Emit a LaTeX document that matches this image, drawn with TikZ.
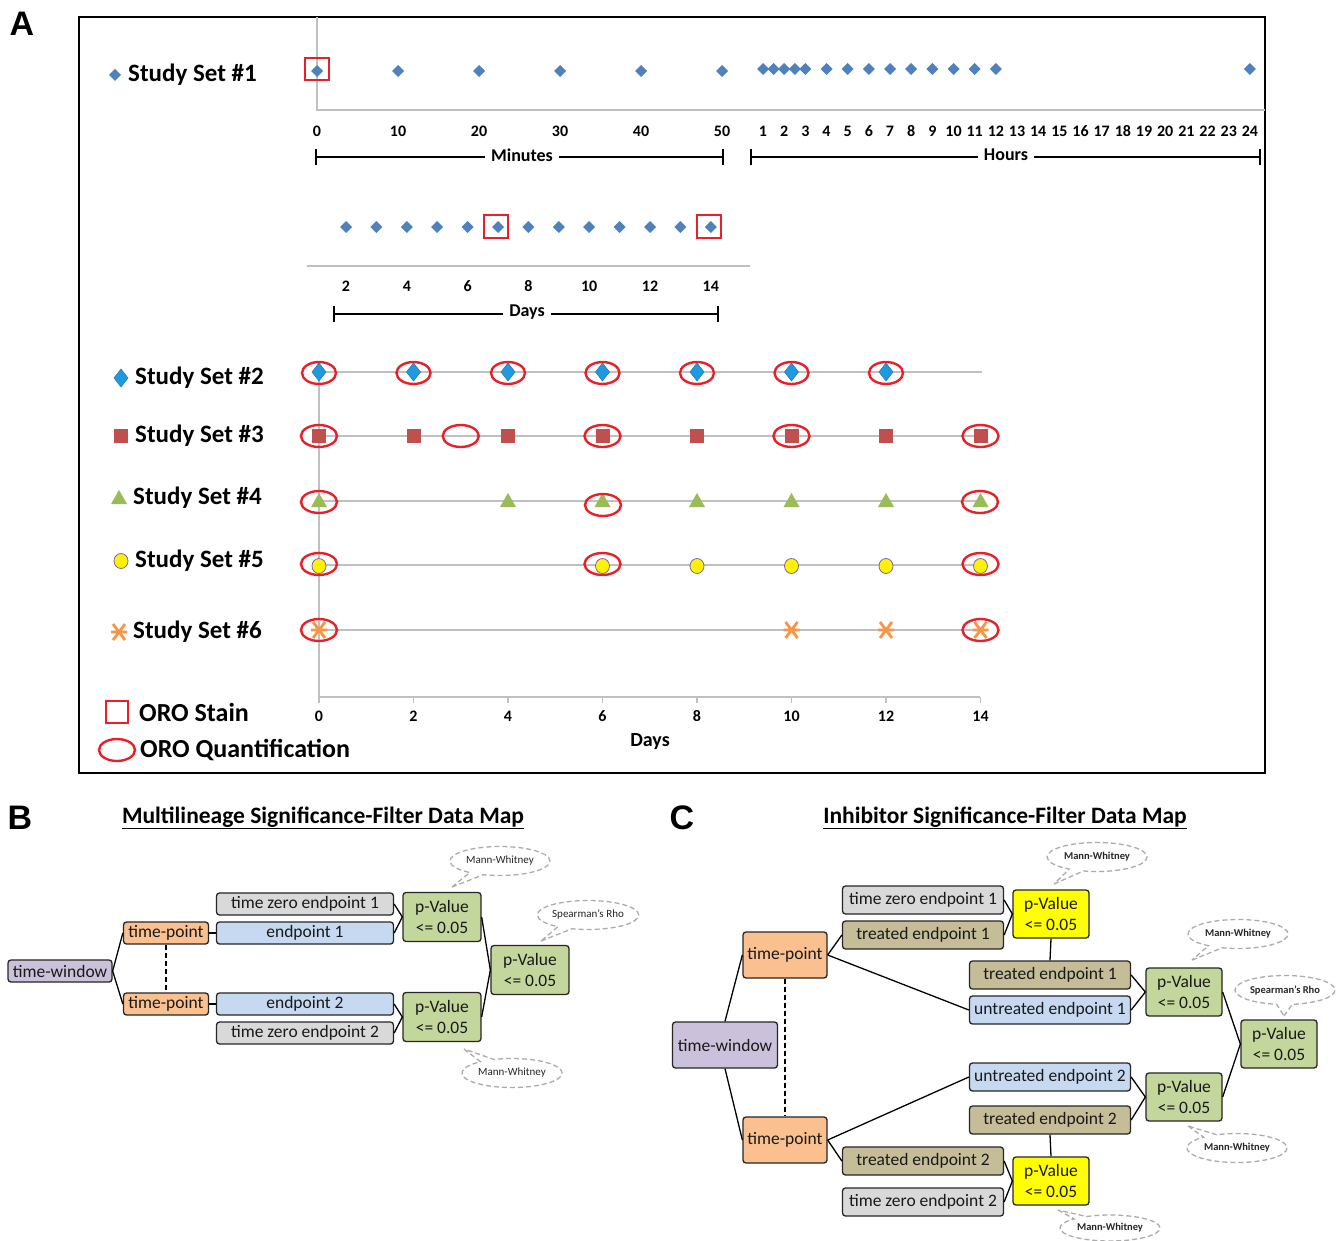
\documentclass[tikz,border=0pt]{standalone}
\usepackage{fontspec}
\setmainfont{Carlito}
\newfontfamily\heavy{Liberation Sans}
\usetikzlibrary{shapes.geometric,shapes.callouts}
\definecolor{cA}{HTML}{4F81BD}
\definecolor{cB}{HTML}{1E9BE0}
\definecolor{cBe}{HTML}{2F6FA8}
\definecolor{cC}{HTML}{C0504D}
\definecolor{cD}{HTML}{9BBB59}
\definecolor{cE}{HTML}{FFF200}
\definecolor{cEe}{HTML}{8064A2}
\definecolor{cF}{HTML}{F79646}
\definecolor{oro}{HTML}{E8202A}
\definecolor{gline}{HTML}{C0C0C0}
\definecolor{fpur}{HTML}{CCC1DA}
\definecolor{forg}{HTML}{FAC090}
\definecolor{fgry}{HTML}{D9D9D9}
\definecolor{fblu}{HTML}{C6D9F1}
\definecolor{fgrn}{HTML}{C3D69B}
\definecolor{fkha}{HTML}{C4BD97}
\definecolor{fyel}{HTML}{FFFF00}
\tikzset{
  gl/.style={draw=gline, line width=1.4pt},
  orob/.style={draw=oro, line width=2.4pt},
  lab/.style={font=\fontsize{25}{28}\selectfont\bfseries, anchor=west, inner sep=0pt},
  num/.style={font=\fontsize{16}{18}\selectfont\bfseries, inner sep=0pt},
  axt/.style={font=\fontsize{18}{20}\selectfont\bfseries, fill=white, inner xsep=6pt, inner ysep=1pt},
  plet/.style={font=\heavy\bfseries\fontsize{34}{34}\selectfont, inner sep=0pt},
  ptit/.style={font=\fontsize{23.5}{26}\selectfont\bfseries, inner sep=0pt},
  box/.style={draw=black!85, line width=1.3pt, rounded corners=3pt, inner sep=1pt,
              font=\fontsize{17.5}{21}\selectfont, text=black!90, align=center},
  bbox/.style={box, minimum width=177pt, minimum height=22pt},
  cbox/.style={box, minimum width=161pt, minimum height=28pt},
  pvb/.style={box, minimum width=78pt, minimum height=49pt},
  pvc/.style={box, minimum width=76pt, minimum height=48pt},
  conn/.style={draw=black, line width=1.3pt},
  dconn/.style={draw=black, line width=1.3pt, dash pattern=on 5pt off 3pt},
  cloudn/.style={ellipse callout, draw=gray!65, dashed, dash pattern=on 5pt off 3pt,
                 line width=1.3pt, minimum width=100pt, minimum height=29pt, inner sep=0pt,
                 callout pointer arc=18, font=\fontsize{11}{12}\selectfont, text=black!85},
  dmdA/.pic={\fill[cA] (0,-6)--(6,0)--(0,6)--(-6,0)--cycle;},
  dmdB/.pic={\filldraw[fill=cB, draw=cBe, line width=0.5pt] (0,-9)--(7,0)--(0,9)--(-7,0)--cycle;},
  sqC/.pic={\fill[cC] (-7,-7) rectangle (7,7);},
  triD/.pic={\fill[cD] (0,-8)--(8,6)--(-8,6)--cycle;},
  cirE/.pic={\filldraw[fill=cE, draw=cEe, line width=0.8pt] (0,0) ellipse [x radius=7, y radius=7.5];},
  astF/.pic={\draw[cF, line width=2.8pt] (-6,-8)--(6,8) (-6,8)--(6,-8) (-8,0)--(8,0);},
}
\begin{document}
\begin{tikzpicture}[x=1pt, y=-1pt]
\useasboundingbox[fill=white] (0,0) rectangle (1336,1241);

%% ================= Panel A =================
\node[plet] (labA) at (22,24) {A};
\draw[line width=2pt] (79,17) rectangle (1265,773);

% Study set 1 plot
\draw[gl] (317,17) -- (317,110) -- (1265,110);
\foreach \k in {0,...,5} {
  \pic at ({317+81*\k},71) {dmdA};
  \node[num] (m\k) at ({317+81*\k},131) {\the\numexpr 10*\k\relax};
}
\foreach \h in {1,1.5,2,2.5,3,4,5,6,7,8,9,10,11,12,24} {
  \pic at ({763+21.17*(\h-1)},69) {dmdA};
}
\foreach \h in {1,...,24} {
  \node[num] (h\h) at ({763+21.17*(\h-1)},131) {\h};
}
\draw[orob] (305,58) rectangle (329,80);
\pic at (115,75) {dmdA};
\node[lab] (s1) at (128,75) {Study Set \#1};

% brackets
\draw[line width=1.5pt] (316,157) -- (723,157) (316,149) -- (316,165) (723,149) -- (723,165);
\node[axt] (minutes) at (522,155) {Minutes};
\draw[line width=1.5pt] (751,157) -- (1260,157) (751,149) -- (751,165) (1260,149) -- (1260,165);
\node[axt] (hours) at (1006,155) {Hours};

% Days sub plot
\draw[gl] (307,266) -- (750,266);
\foreach \d in {2,...,14} { \pic at ({346+30.4*(\d-2)},227) {dmdA}; }
\foreach \d in {2,4,...,14} { \node[num] (dd\d) at ({346+30.4*(\d-2)},286) {\d}; }
\draw[orob] (484,215) rectangle (508,238);
\draw[orob] (697,215) rectangle (721,238);
\draw[line width=1.5pt] (334,314) -- (718,314) (334,306) -- (334,322) (718,306) -- (718,322);
\node[axt] (days1) at (527,312) {Days};

% main days plot
\draw[gl] (319,362) -- (319,697) -- (980,697);
\foreach \d in {0,2,...,14} {
  \draw[gl] ({319+47.25*\d},697) -- ++(0,6);
  \node[num] (bd\d) at ({319+47.25*\d},716) {\d};
}
\node[font=\fontsize{20}{22}\selectfont\bfseries] (days2) at (650,742) {Days};

% row 2
\draw[gl] (319,372) -- (982,372);
\foreach \d in {0,2,...,12} {
  \pic at ({319+47.25*\d},372) {dmdB};
  \draw[orob] ({319+47.25*\d},373) ellipse [x radius=17, y radius=11];
}
% row 3
\draw[gl] (319,436) -- (980,436);
\foreach \d in {0,2,...,14} { \pic at ({319+47.25*\d},436) {sqC}; }
\foreach \d in {0,3,6,10,14} { \draw[orob] ({319+47.25*\d},436) ellipse [x radius=18, y radius=11]; }
% row 4
\draw[gl] (319,501) -- (980,501);
\foreach \d in {0,4,6,8,10,12,14} { \pic at ({319+47.25*\d},501) {triD}; }
\draw[orob] (319,502) ellipse [x radius=18, y radius=11];
\draw[orob] (603,505) ellipse [x radius=18, y radius=11];
\draw[orob] (980,502) ellipse [x radius=18, y radius=11];
% row 5
\draw[gl] (319,565) -- (980,565);
\foreach \d in {0,6,8,10,12,14} { \pic at ({319+47.25*\d},566) {cirE}; }
\foreach \d in {0,6,14} { \draw[orob] ({319+47.25*\d},564) ellipse [x radius=18, y radius=11]; }
% row 6
\draw[gl] (319,630) -- (980,630);
\foreach \d in {0,10,12,14} { \pic at ({319+47.25*\d},630) {astF}; }
\foreach \d in {0,14} { \draw[orob] ({319+47.25*\d},630) ellipse [x radius=18, y radius=11]; }

% legends
\pic at (121,378) {dmdB};
\node[lab] (s2) at (135,378) {Study Set \#2};
\pic at (121,436) {sqC};
\node[lab] (s3) at (135,436) {Study Set \#3};
\pic at (119,498) {triD};
\node[lab] (s4) at (133,498) {Study Set \#4};
\pic at (121,561) {cirE};
\node[lab] (s5) at (135,561) {Study Set \#5};
\pic at (119,632) {astF};
\node[lab] (s6) at (133,632) {Study Set \#6};
\draw[orob] (106,701) rectangle (128,723);
\node[lab, font=\fontsize{26}{28}\selectfont\bfseries] (oro1) at (139,712) {ORO Stain};
\draw[orob] (117,750) ellipse [x radius=18, y radius=11];
\node[lab, font=\fontsize{26}{28}\selectfont\bfseries] (oro2) at (140,750) {ORO Quantification};

%% ================= Panel B =================
\node[plet] (labB) at (20,818) {B};
\node[ptit] (titB) at (323,818) {\underline{Multilineage Significance-Filter Data Map}};

\node[box, fill=fpur, minimum width=104pt, minimum height=22pt] (btw) at (60,971) {time-window};
\node[box, fill=forg, minimum width=85pt, minimum height=22pt] (btp1) at (166,933) {time-point};
\node[box, fill=forg, minimum width=85pt, minimum height=22pt] (btp2) at (166,1004) {time-point};
\node[bbox, fill=fgry] (btz1) at (305,904) {time zero endpoint 1};
\node[bbox, fill=fblu] (be1) at (305,933) {endpoint 1};
\node[bbox, fill=fblu] (be2) at (305,1004) {endpoint 2};
\node[bbox, fill=fgry] (btz2) at (305,1033) {time zero endpoint 2};
\node[pvb, fill=fgrn] (bp1) at (442,917) {p-Value\\<= 0.05};
\node[pvb, fill=fgrn] (bp2) at (442,1017) {p-Value\\<= 0.05};
\node[pvb, fill=fgrn] (bp3) at (530,970) {p-Value\\<= 0.05};

\draw[conn] (btw.east) -- (btp1.west);
\draw[conn] (btw.east) -- (btp2.west);
\draw[conn] (btp1.east) -- (be1.west);
\draw[conn] (btp2.east) -- (be2.west);
\draw[dconn] (btp1.south) -- (btp2.north);
\draw[conn] (btz1.east) -- (bp1.west);
\draw[conn] (be1.east) -- (bp1.west);
\draw[conn] (be2.east) -- (bp2.west);
\draw[conn] (btz2.east) -- (bp2.west);
\draw[conn] (bp1.east) -- (bp3.west);
\draw[conn] (bp2.east) -- (bp3.west);

\node[cloudn, callout absolute pointer={(452,887)}] (bc1) at (500,861) {Mann-Whitney};
\node[cloudn, callout absolute pointer={(541,941)}] (bc2) at (588,915) {Spearman’s Rho};
\node[cloudn, callout absolute pointer={(464,1049)}] (bc3) at (512,1073) {Mann-Whitney};

%% ================= Panel C =================
\node[plet] (labC) at (682,818) {C};
\node[ptit] (titC) at (1005,818) {\underline{Inhibitor Significance-Filter Data Map}};

\node[box, fill=fpur, minimum width=105pt, minimum height=46pt] (ctw) at (725,1045) {time-window};
\node[box, fill=forg, minimum width=84pt, minimum height=46pt] (ctp1) at (785,955) {time-point};
\node[box, fill=forg, minimum width=84pt, minimum height=46pt] (ctp2) at (785,1140) {time-point};
\node[cbox, fill=fgry] (ctz1) at (923,900) {time zero endpoint 1};
\node[cbox, fill=fkha] (cte1a) at (923,935) {treated endpoint 1};
\node[pvc, fill=fyel] (cpy1) at (1051,914) {p-Value\\<= 0.05};
\node[cbox, fill=fkha] (cte1b) at (1050,975) {treated endpoint 1};
\node[cbox, fill=fblu] (cut1) at (1050,1010) {untreated endpoint 1};
\node[pvc, fill=fgrn] (cpg1) at (1184,992) {p-Value\\<= 0.05};
\node[pvc, fill=fgrn] (cpr) at (1279,1044) {p-Value\\<= 0.05};
\node[cbox, fill=fblu] (cut2) at (1050,1077) {untreated endpoint 2};
\node[cbox, fill=fkha] (cte2b) at (1050,1120) {treated endpoint 2};
\node[pvc, fill=fgrn] (cpg2) at (1184,1097) {p-Value\\<= 0.05};
\node[cbox, fill=fkha] (cte2a) at (923,1161) {treated endpoint 2};
\node[cbox, fill=fgry] (ctz2) at (923,1202) {time zero endpoint 2};
\node[pvc, fill=fyel] (cpy2) at (1051,1181) {p-Value\\<= 0.05};

\draw[conn] (ctw.north) -- (ctp1.west);
\draw[conn] (ctw.south) -- (ctp2.west);
\draw[dconn] (ctp1.south) -- (ctp2.north);
\draw[conn] (ctp1.east) -- (cte1a.west);
\draw[conn] (ctp1.east) -- (cut1.west);
\draw[conn] (ctp2.east) -- (cut2.west);
\draw[conn] (ctp2.east) -- (cte2a.west);
\draw[conn] (ctz1.east) -- (cpy1.west);
\draw[conn] (cte1a.east) -- (cpy1.west);
\draw[conn] (cpy1.south) -- (cte1b.north);
\draw[conn] (cte1b.east) -- (cpg1.west);
\draw[conn] (cut1.east) -- (cpg1.west);
\draw[conn] (cut2.east) -- (cpg2.west);
\draw[conn] (cte2b.east) -- (cpg2.west);
\draw[conn] (cpg1.east) -- (cpr.west);
\draw[conn] (cpg2.east) -- (cpr.west);
\draw[conn] (cte2a.east) -- (cpy2.west);
\draw[conn] (ctz2.east) -- (cpy2.west);
\draw[conn] (cpy2.north) -- (cte2b.south);

\node[cloudn, font=\fontsize{10.5}{12}\selectfont\bfseries, callout absolute pointer={(1054,884)}] (cc1) at (1097,857) {Mann-Whitney};
\node[cloudn, font=\fontsize{10.5}{12}\selectfont\bfseries, callout absolute pointer={(1192,960)}] (cc2) at (1238,934) {Mann-Whitney};
\node[cloudn, font=\fontsize{10.5}{12}\selectfont\bfseries, callout absolute pointer={(1284,1016)}] (cc3) at (1285,990) {Spearman’s Rho};
\node[cloudn, font=\fontsize{10.5}{12}\selectfont\bfseries, callout absolute pointer={(1188,1126)}] (cc4) at (1237,1148) {Mann-Whitney};
\node[cloudn, font=\fontsize{10.5}{12}\selectfont\bfseries, minimum height=26pt, callout absolute pointer={(1058,1210)}] (cc5) at (1110,1228) {Mann-Whitney};
\end{tikzpicture}
\end{document}
